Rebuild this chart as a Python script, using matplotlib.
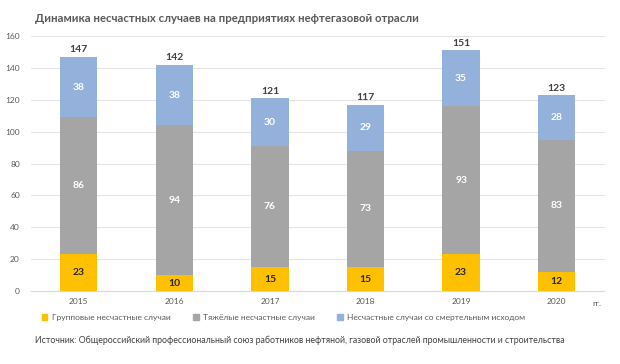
import matplotlib
matplotlib.use('Agg')
import matplotlib.pyplot as plt
import matplotlib.patches as mpatches
import numpy as np

plt.rcParams['font.family'] = ['Lato', 'DejaVu Sans']

years = ['2015', '2016', '2017', '2018', '2019', '2020']
group_cases = [23, 10, 15, 15, 23, 12]
severe_cases = [86, 94, 76, 73, 93, 83]
fatal_cases = [38, 38, 30, 29, 35, 28]
totals = [147, 142, 121, 117, 151, 123]

legend_labels = ['Групповые несчастные случаи',
                 'Тяжёлые несчастные случаи',
                 'Несчастные случаи со смертельным исходом']
colors = ['#FFC000', '#A5A5A5', '#93B1DA']
text_gray = '#595959'

fig = plt.figure(figsize=(6.2, 3.64), dpi=100)
ax = fig.add_axes([0.05, 0.2005, 0.925, 0.7005])

x = np.arange(len(years))
width = 0.39
g = np.array(group_cases)
s = np.array(severe_cases)
f = np.array(fatal_cases)

ax.bar(x, g, width, color=colors[0], zorder=2)
ax.bar(x, s, width, bottom=g, color=colors[1], zorder=2)
ax.bar(x, f, width, bottom=g + s, color=colors[2], zorder=2)

# Segment labels
for i in range(len(years)):
    ax.text(x[i], g[i] / 2, str(g[i]), ha='center', va='center',
            fontsize=7.5, fontweight='bold', color='#262626', zorder=3)
    ax.text(x[i], g[i] + s[i] / 2, str(s[i]), ha='center', va='center',
            fontsize=7.5, fontweight='bold', color='white', zorder=3)
    ax.text(x[i], g[i] + s[i] + f[i] / 2, str(f[i]), ha='center', va='center',
            fontsize=7.5, fontweight='bold', color='white', zorder=3)
    ax.text(x[i], totals[i] + 1.5, str(totals[i]), ha='center', va='bottom',
            fontsize=7.5, fontweight='bold', color='#404040', zorder=3)

ax.set_xlim(-0.5, 5.5)
ax.set_ylim(0, 160)
ax.set_yticks(range(0, 161, 20))
ax.set_xticks(x)
ax.set_xticklabels(years)
ax.tick_params(axis='both', length=0, labelsize=6, labelcolor=text_gray)
ax.tick_params(axis='x', pad=5)
ax.tick_params(axis='y', pad=8)
ax.grid(axis='y', color='#E4E4E4', linewidth=0.8, zorder=0)
for side in ['top', 'right', 'left']:
    ax.spines[side].set_visible(False)
ax.spines['bottom'].set_color('#D9D9D9')

ax.text(5.42, -5.5, 'гг.', ha='center', va='top', fontsize=6, color=text_gray)

fig.text(0.056, 0.95, 'Динамика несчастных случаев на предприятиях нефтегазовой отрасли',
         fontsize=8.2, fontweight='bold', color=text_gray, ha='left', va='center')

handles = [mpatches.Patch(color=c, label=l) for c, l in zip(colors, legend_labels)]
fig.legend(handles=handles, loc='center left', bbox_to_anchor=(0.055, 0.129),
           ncol=3, frameon=False, fontsize=6, labelcolor=text_gray,
           handlelength=0.7, handleheight=0.7, handletextpad=0.5, columnspacing=2.7)

fig.text(0.056, 0.066, 'Источник: Общероссийский профессиональный союз работников нефтяной, '
         'газовой отраслей промышленности и строительства',
         fontsize=6.35, color='#404040', ha='left', va='center')

fig.savefig('out.png', dpi=100)
